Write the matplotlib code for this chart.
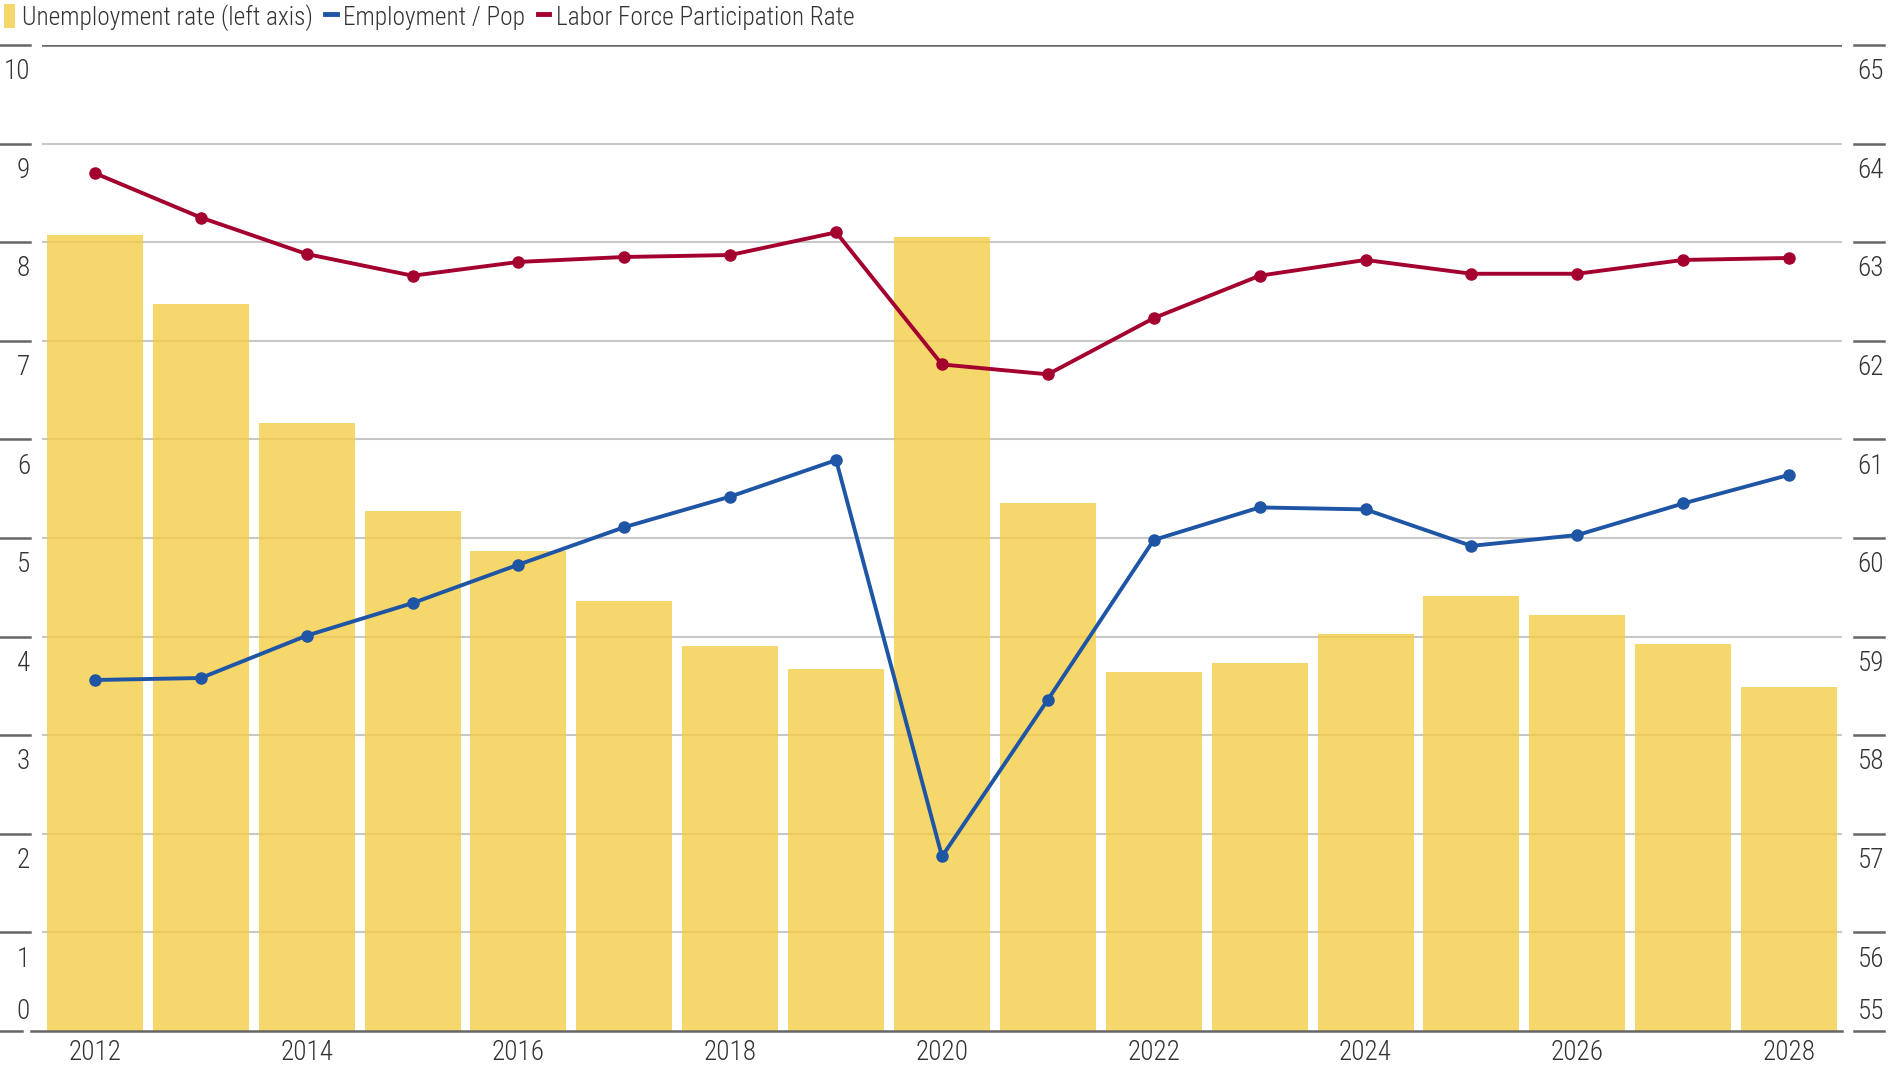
import matplotlib
matplotlib.use("Agg")
import matplotlib.pyplot as plt
import matplotlib.font_manager as fm
from matplotlib.lines import Line2D
from matplotlib.patches import Patch
from matplotlib.transforms import blended_transform_factory

years = list(range(2012, 2029))
unemployment = [8.07, 7.37, 6.17, 5.27, 4.87, 4.36, 3.9, 3.67, 8.05, 5.36,
                3.64, 3.73, 4.03, 4.41, 4.22, 3.93, 3.49]
emp_pop = [58.56, 58.58, 59.01, 59.34, 59.73, 60.11, 60.42, 60.79, 56.77, 58.36,
           59.98, 60.31, 60.29, 59.92, 60.03, 60.35, 60.64]
lfpr = [63.70, 63.25, 62.88, 62.66, 62.80, 62.85, 62.87, 63.10, 61.76, 61.66,
        62.23, 62.66, 62.82, 62.68, 62.68, 62.82, 62.84]
left_ticks = list(range(0, 11))
right_ticks = list(range(55, 66))
xtick_years = years[::2]

W, H = 1896, 1065
bar_col = (244 / 255, 205 / 255, 70 / 255)
blue = '#1f55a5'
red = '#a4002f'
txt = '#333333'
dark = '#666666'

# look for a condensed / narrow face, fall back to DejaVu Sans
narrow = None
for f in fm.fontManager.ttflist:
    if f.style != 'normal' or f.weight not in (300, 350, 400, 'normal', 'light', 'regular'):
        continue
    if 'Narrow' in f.name or 'Condensed' in f.name or f.stretch in (
            'condensed', 'semi-condensed', 'extra-condensed', 'ultra-condensed'):
        if narrow is None or f.weight in (300, 'light'):
            narrow = f
if narrow is not None:
    fp = fm.FontProperties(fname=narrow.fname)
    tick_fs, leg_fs = 19.5, 18.3
else:
    fp = fm.FontProperties(family='DejaVu Sans')
    tick_fs, leg_fs = 16, 14

fig = plt.figure(figsize=(W / 100, H / 100), dpi=100)
ax = fig.add_axes([42 / W, 1 - 1031 / H, 1800 / W, 986 / H])
ax2 = ax.twinx()

ax.bar(years, unemployment, width=0.907, color=bar_col, alpha=0.8, zorder=2)
ax.set_xlim(2011.5, 2028.5)
ax.set_ylim(0, 10)
ax2.set_ylim(55, 65)

# gridlines (inner light, top dark)
for v in left_ticks[1:-1]:
    ax.axhline(v, color='#c8c8c8', lw=1.5, zorder=1)
ax.axhline(10, color=dark, lw=1.8, zorder=1)

ax2.plot(years, emp_pop, color=blue, lw=2.8, marker='o', ms=8, zorder=3)
ax2.plot(years, lfpr, color=red, lw=2.8, marker='o', ms=8, zorder=3)

for a in (ax, ax2):
    for s in a.spines.values():
        s.set_visible(False)
    a.set_yticks([])
ax2.tick_params(axis='x', length=0)
ax.set_xticks(xtick_years)
ax.set_xticklabels([str(y) for y in xtick_years])
for t in ax.get_xticklabels():
    t.set_fontproperties(fp)
    t.set_fontsize(tick_fs)
    t.set_color(txt)
ax.tick_params(axis='x', length=0, pad=5.5)

tr = blended_transform_factory(fig.transFigure, ax.transData)
# bottom axis line
ax.add_line(Line2D([31 / W, 1842 / W], [0, 0], transform=tr, color=dark,
                   lw=1.8, clip_on=False, zorder=4))

for lv, rv in zip(left_ticks, right_ticks):
    lx = [0, 22 / W] if lv == 0 else [0, 30 / W]
    ax.add_line(Line2D(lx, [lv, lv], transform=tr, color=dark, lw=1.8, clip_on=False))
    ax.add_line(Line2D([1854 / W, 1884 / W], [lv, lv], transform=tr, color=dark,
                       lw=1.8, clip_on=False))
    if lv == 0:
        off, va = 4, 'bottom'
    else:
        off, va = -9.5, 'top'
    for x, s in ((30 / W, str(lv)), (1884 / W, str(rv))):
        ax.annotate(s, xy=(x, lv), xycoords=tr, xytext=(0, off),
                    textcoords='offset points', ha='right', va=va,
                    fontproperties=fp, fontsize=tick_fs, color=txt,
                    annotation_clip=False)

handles = [Patch(facecolor='#f6d76b', edgecolor='none'),
           Line2D([], [], color=blue, lw=3.5),
           Line2D([], [], color=red, lw=3.5)]
labels = ['Unemployment rate (left axis)', 'Employment / Pop',
          'Labor Force Participation Rate']
leg_prop = fp.copy()
leg_prop.set_size(leg_fs)
leg = fig.legend(handles, labels, loc='upper left', bbox_to_anchor=(0, 1),
                 ncol=3, frameon=False, handlelength=0.45, handleheight=1.1,
                 handletextpad=0.25, columnspacing=0.5, borderaxespad=0.15,
                 borderpad=0, prop=leg_prop)
for t in leg.get_texts():
    t.set_color(txt)

fig.savefig('out.png', dpi=100)
